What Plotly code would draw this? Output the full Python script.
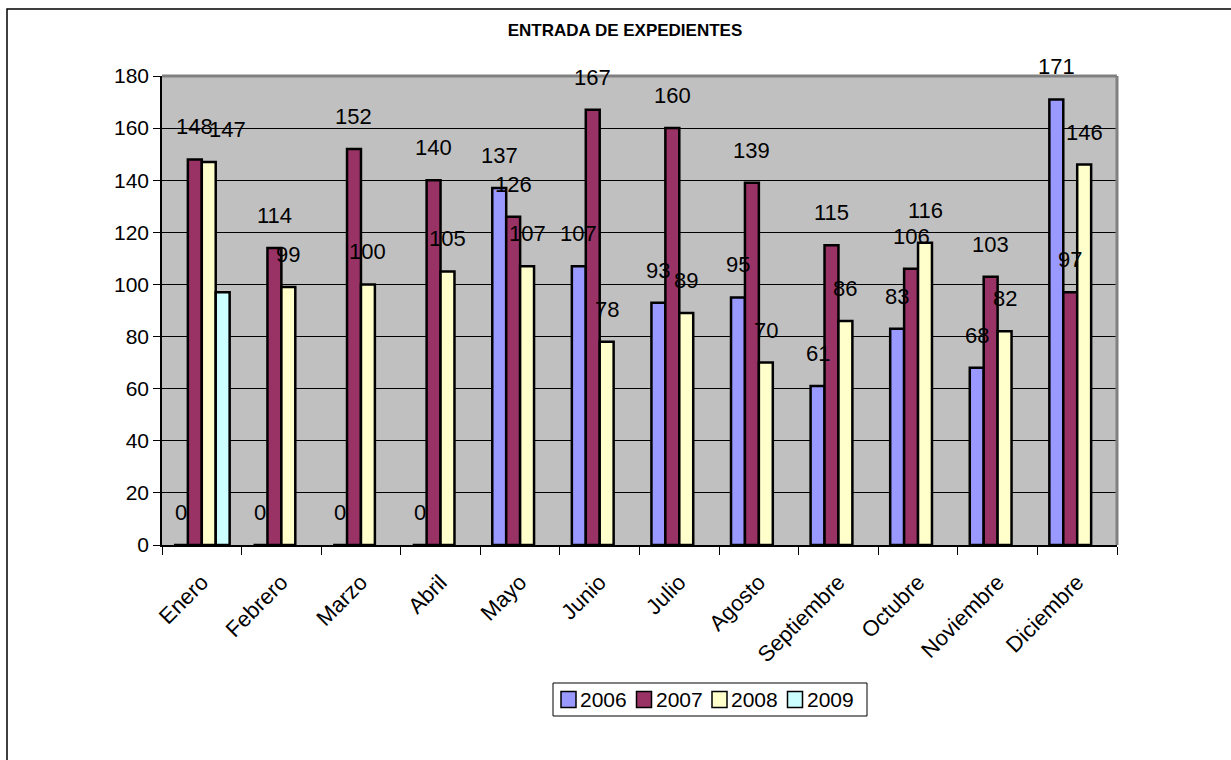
import plotly.graph_objects as go

# Monthly incoming case files by year
months = ["Enero", "Febrero", "Marzo", "Abril", "Mayo", "Junio", "Julio",
          "Agosto", "Septiembre", "Octubre", "Noviembre", "Diciembre"]
years = ["2006", "2007", "2008", "2009"]
y2006 = [0, 0, 0, 0, 137, 107, 93, 95, 61, 83, 68, 171]
y2007 = [148, 114, 152, 140, 126, 167, 160, 139, 115, 106, 103, 97]
y2008 = [147, 99, 100, 105, 107, 78, 89, 70, 86, 116, 82, 146]
y2009 = [97, None, None, None, None, None, None, None, None, None, None, None]
y_ticks = [0, 20, 40, 60, 80, 100, 120, 140, 160, 180]

series = [y2006, y2007, y2008, y2009]
colors = ["#9999FF", "#993366", "#FFFFCC", "#CCFFFF"]
labelled = [True, True, True, False]

W, H = 1231, 760
ML, MR, MT, MB = 162, 114, 76, 215
PW, PH = W - ML - MR, H - MT - MB
BARGAP = 0.3
FONT = "Liberation Sans, Arial, sans-serif"


def px_x(p):
    return (p - ML) / PW


def px_y(p):
    return (H - MB - p) / PH


fig = go.Figure()
for name, vals, col in zip(years, series, colors):
    fig.add_trace(go.Bar(
        x=months, y=vals, name=name, showlegend=False,
        marker=dict(color=col, line=dict(color="black", width=2.5)),
    ))

# value labels above the bars
bar_px = PW / len(months) * (1 - BARGAP) / len(series)
nudge = {("Enero", 2): 19}
annotations = []
for k, (vals, show) in enumerate(zip(series, labelled)):
    if not show:
        continue
    for m, v in zip(months, vals):
        if v is None:
            continue
        annotations.append(dict(
            x=m, y=v, xref="x", yref="y", text=str(v), showarrow=False,
            xshift=(k - 1.5) * bar_px + nudge.get((m, k), 0), yshift=18,
            yanchor="bottom", xanchor="center",
            font=dict(family=FONT, size=22, color="black"),
        ))

shapes = [
    # outer chart frame
    dict(type="rect", xref="paper", yref="paper",
         x0=px_x(7), x1=px_x(1236), y0=px_y(765), y1=px_y(9),
         line=dict(color="black", width=1.5)),
    # plot-area border on top and right
    dict(type="line", xref="paper", yref="paper", x0=0, x1=1, y0=1, y1=1,
         line=dict(color="#808080", width=3)),
    dict(type="line", xref="paper", yref="paper", x0=1, x1=1, y0=0, y1=1,
         line=dict(color="#808080", width=3)),
]

# legend box with colour keys
LEG_L, LEG_R, LEG_T, LEG_B = 553, 867, 683, 716
leg_mid = (LEG_T + LEG_B) / 2
shapes.append(dict(type="rect", xref="paper", yref="paper",
                   x0=px_x(LEG_L), x1=px_x(LEG_R), y0=px_y(LEG_B), y1=px_y(LEG_T),
                   line=dict(color="black", width=1), fillcolor="white"))
item_pitch = 75.5
for i, (name, col) in enumerate(zip(years, colors)):
    sx = 561 + i * item_pitch
    shapes.append(dict(type="rect", xref="paper", yref="paper",
                       x0=px_x(sx), x1=px_x(sx + 15),
                       y0=px_y(leg_mid + 8), y1=px_y(leg_mid - 8),
                       line=dict(color="black", width=1.5), fillcolor=col))
    annotations.append(dict(
        x=px_x(sx + 17), y=px_y(leg_mid), xref="paper", yref="paper",
        text=name, showarrow=False, xanchor="left", yanchor="middle",
        font=dict(family=FONT, size=21, color="black"),
    ))

fig.update_layout(
    width=W, height=H,
    margin=dict(l=ML, r=MR, t=MT, b=MB),
    paper_bgcolor="white", plot_bgcolor="#C0C0C0",
    font=dict(family=FONT, size=20, color="black"),
    barmode="group", bargap=BARGAP, bargroupgap=0,
    showlegend=False,
    title=dict(text="<b>ENTRADA DE EXPEDIENTES</b>", x=625 / W, xanchor="center",
               y=1 - 30 / H, yanchor="middle",
               font=dict(family=FONT, size=17, color="black")),
    xaxis=dict(type="category", showline=True, linecolor="black", linewidth=1.5,
               ticks="outside", tickson="boundaries", ticklen=8, tickcolor="black",
               tickangle=-45, tickfont=dict(size=22), showgrid=False,
               ticklabelstandoff=14),
    yaxis=dict(range=[0, 180], tickvals=y_ticks, showline=True, linecolor="black",
               linewidth=1.5, ticks="outside", ticklen=7, tickcolor="black",
               showgrid=True, gridcolor="black", gridwidth=1, zeroline=False,
               tickfont=dict(size=21)),
    annotations=annotations,
    shapes=shapes,
)

fig.write_html("out.html")
